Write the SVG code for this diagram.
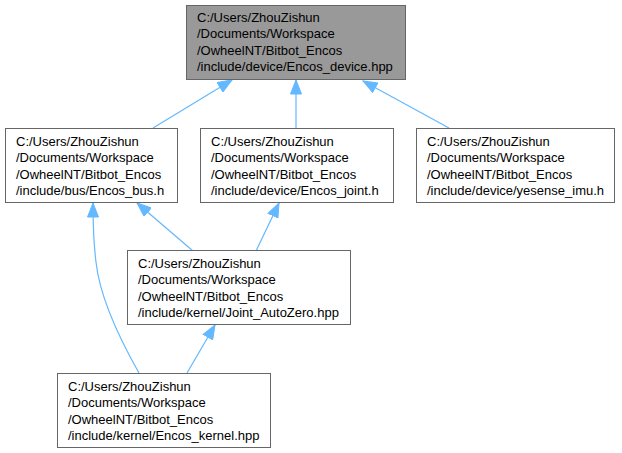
<svg xmlns="http://www.w3.org/2000/svg" width="622" height="453" viewBox="0 0 622 453">
<style>
.box{fill:#ffffff;stroke:#666666;stroke-width:1}
.hl{fill:#999999;stroke:#666666;stroke-width:1}
.t{font-family:"Liberation Sans",Arial,sans-serif;font-size:13px;fill:#000000}
.e{fill:none;stroke:#63b8ff;stroke-width:1.2}
</style>
<defs>
<marker id="ah" markerUnits="userSpaceOnUse" markerWidth="16" markerHeight="12" viewBox="0 -6 15 12" refX="14" refY="0" orient="auto">
<path d="M0,-5.5 L14,0 L0,5.5 z" fill="#63b8ff" stroke="#63b8ff" stroke-width="1"/>
</marker>
</defs>
<rect width="622" height="453" fill="#ffffff"/>
<g id="edges">
<path class="e" marker-end="url(#ah)" d="M153,128 L232,80"/>
<path class="e" marker-end="url(#ah)" d="M296,128 L296,80"/>
<path class="e" marker-end="url(#ah)" d="M449,128 L363,81"/>
<path class="e" marker-end="url(#ah)" d="M193,251 L137,203"/>
<path class="e" marker-end="url(#ah)" d="M256,251 L279,203"/>
<path class="e" marker-end="url(#ah)" d="M139,373 C122,343 100,300 96,262 C94,246 93,230 93,203"/>
<path class="e" marker-end="url(#ah)" d="M187,373 L215,325"/>
</g>
<g id="node_device">
<rect class="hl" x="186.5" y="5.5" width="219" height="74"/>
<text class="t" x="197" y="22">C:/Users/ZhouZishun</text>
<text class="t" x="197" y="38.3">/Documents/Workspace</text>
<text class="t" x="197" y="54.6">/OwheelNT/Bitbot_Encos</text>
<text class="t" x="197" y="71">/include/device/Encos_device.hpp</text>
</g>
<g id="node_bus">
<rect class="box" x="5.5" y="128.5" width="172" height="74"/>
<text class="t" x="16" y="146">C:/Users/ZhouZishun</text>
<text class="t" x="16" y="162.3">/Documents/Workspace</text>
<text class="t" x="16" y="178.6">/OwheelNT/Bitbot_Encos</text>
<text class="t" x="16" y="195">/include/bus/Encos_bus.h</text>
</g>
<g id="node_joint">
<rect class="box" x="200.5" y="128.5" width="193" height="74"/>
<text class="t" x="211" y="146">C:/Users/ZhouZishun</text>
<text class="t" x="211" y="162.3">/Documents/Workspace</text>
<text class="t" x="211" y="178.6">/OwheelNT/Bitbot_Encos</text>
<text class="t" x="211" y="195">/include/device/Encos_joint.h</text>
</g>
<g id="node_imu">
<rect class="box" x="416.5" y="128.5" width="198" height="74"/>
<text class="t" x="427" y="146">C:/Users/ZhouZishun</text>
<text class="t" x="427" y="162.3">/Documents/Workspace</text>
<text class="t" x="427" y="178.6">/OwheelNT/Bitbot_Encos</text>
<text class="t" x="427" y="195">/include/device/yesense_imu.h</text>
</g>
<g id="node_autozero">
<rect class="box" x="127.5" y="250.5" width="223" height="74"/>
<text class="t" x="138" y="268">C:/Users/ZhouZishun</text>
<text class="t" x="138" y="284.3">/Documents/Workspace</text>
<text class="t" x="138" y="300.6">/OwheelNT/Bitbot_Encos</text>
<text class="t" x="138" y="317">/include/kernel/Joint_AutoZero.hpp</text>
</g>
<g id="node_kernel">
<rect class="box" x="57.5" y="373.5" width="213" height="74"/>
<text class="t" x="68" y="391">C:/Users/ZhouZishun</text>
<text class="t" x="68" y="407.3">/Documents/Workspace</text>
<text class="t" x="68" y="423.6">/OwheelNT/Bitbot_Encos</text>
<text class="t" x="68" y="440">/include/kernel/Encos_kernel.hpp</text>
</g>
</svg>
